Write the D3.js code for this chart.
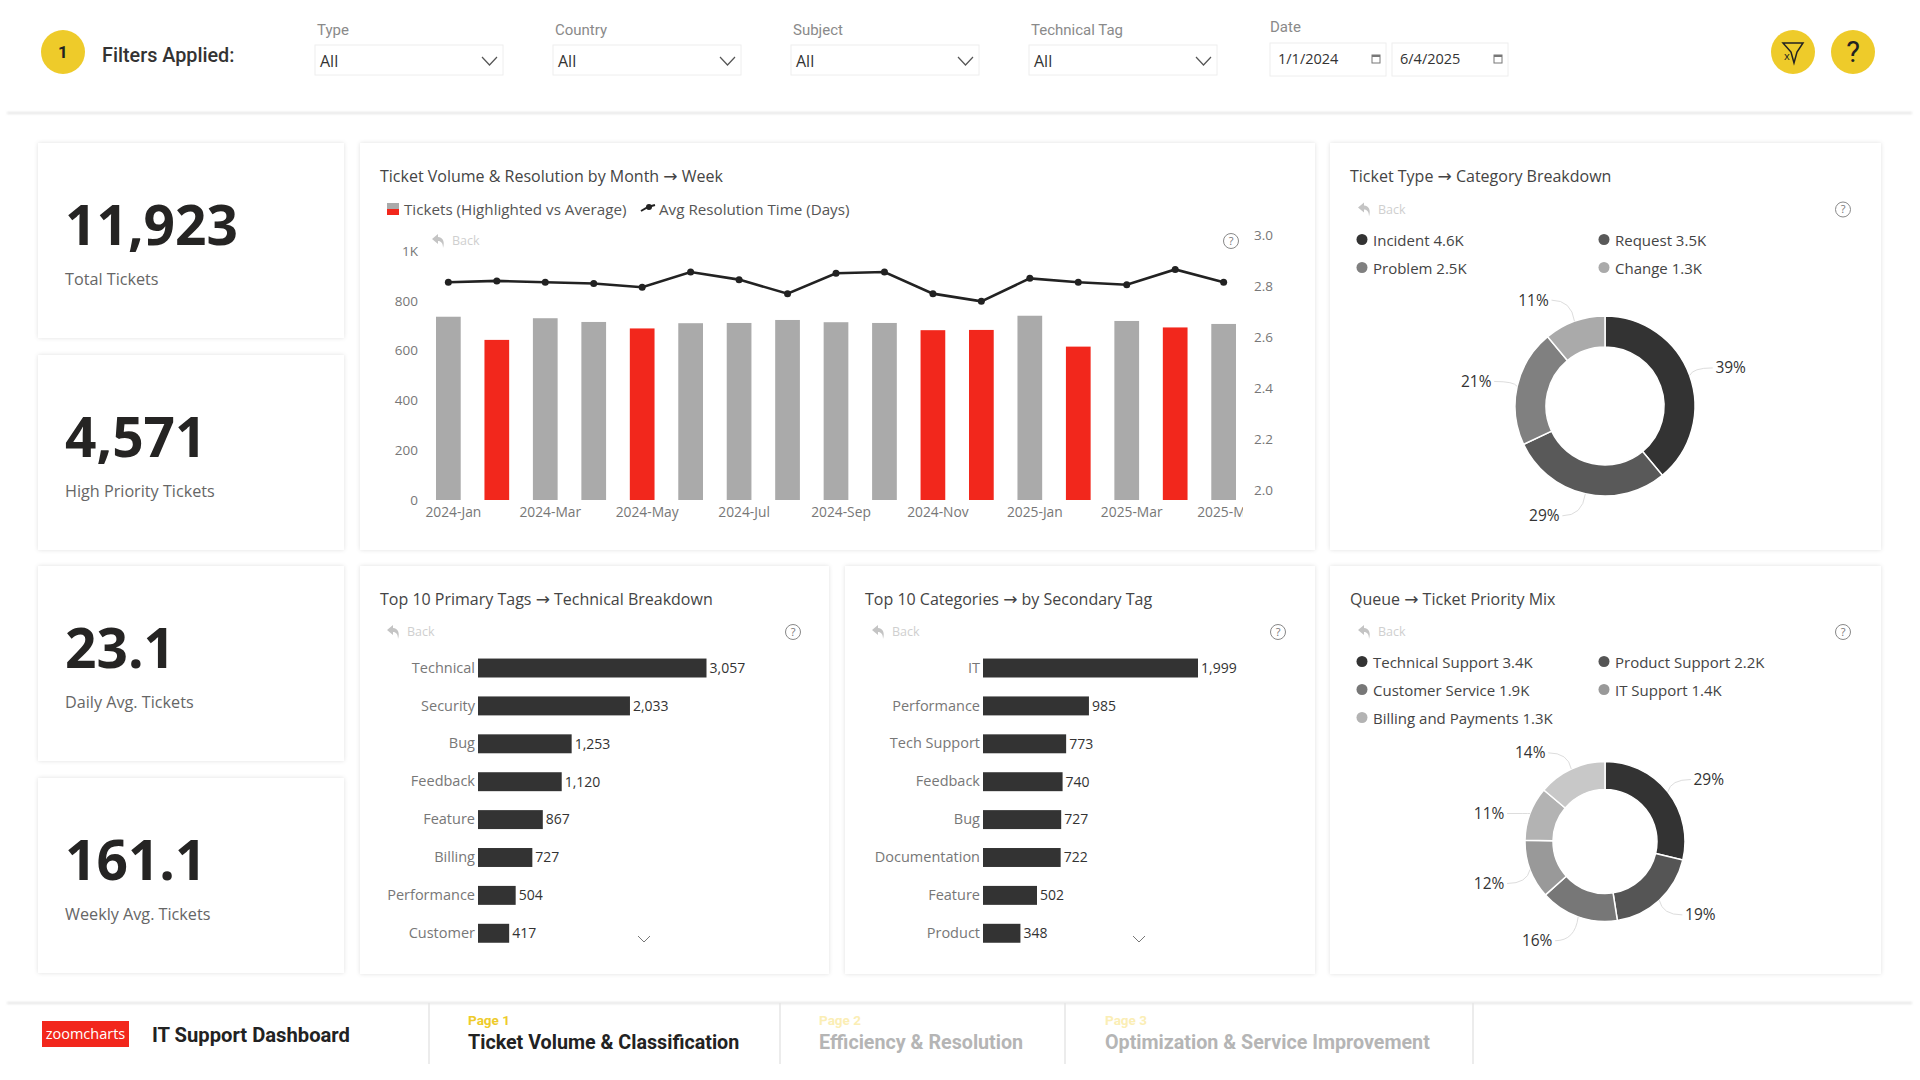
<!DOCTYPE html>
<html>
<head>
<meta charset="utf-8">
<title>IT Support Dashboard</title>
<script src="https://cdn.jsdelivr.net/npm/d3@7"></script>
<style>
  html, body { margin: 0; padding: 0; background: #fff; }
  svg { display: block; }
  text { font-family: "Open Sans", sans-serif; }
  .din { font-family: Roboto, sans-serif; }
</style>
</head>
<body>
<svg id="chart" width="1920" height="1080"></svg>
<script>
// kpi cards
const kpiValues = ['11,923', '4,571', '23.1', '161.1']
const kpiLabels = ['Total Tickets', 'High Priority Tickets', 'Daily Avg. Tickets', 'Weekly Avg. Tickets']

// monthly chart
const months = ['2024-Jan', '2024-Feb', '2024-Mar', '2024-Apr', '2024-May', '2024-Jun', '2024-Jul', '2024-Aug', '2024-Sep',
  '2024-Oct', '2024-Nov', '2024-Dec', '2025-Jan', '2025-Feb', '2025-Mar', '2025-Apr', '2025-May']
const tickets = [736, 643, 730, 715, 689, 710, 711, 723, 714, 711, 682, 683, 740, 616, 719, 693, 707]
const highlighted = [0, 1, 0, 0, 1, 0, 0, 0, 0, 0, 1, 1, 0, 1, 0, 1, 0]
const resolution = [2.815, 2.82, 2.815, 2.81, 2.795, 2.855, 2.825, 2.77, 2.85, 2.855, 2.77, 2.74, 2.83, 2.815, 2.805, 2.865, 2.815]
const leftTicks = [0, 200, 400, 600, 800, 1000]
const rightTicks = [2.0, 2.2, 2.4, 2.6, 2.8, 3.0]

// donuts
const typeNames = ['Incident', 'Request', 'Problem', 'Change']
const typeLegend = ['4.6K', '3.5K', '2.5K', '1.3K']
const typeShare = [39, 29, 21, 11]
const typeColors = ['#333333', '#595959', '#808080', '#aaaaaa']

const queueNames = ['Technical Support', 'Product Support', 'Customer Service', 'IT Support', 'Billing and Payments']
const queueLegend = ['3.4K', '2.2K', '1.9K', '1.4K', '1.3K']
const queueShare = [29, 19, 16, 12, 11, 14]
const queueColors = ['#333333', '#555555', '#777777', '#999999', '#b3b3b3', '#c8c8c8']

// bar lists
const primaryTags = ['Technical', 'Security', 'Bug', 'Feedback', 'Feature', 'Billing', 'Performance', 'Customer']
const primaryCounts = [3057, 2033, 1253, 1120, 867, 727, 504, 417]
const secondaryTags = ['IT', 'Performance', 'Tech Support', 'Feedback', 'Bug', 'Documentation', 'Feature', 'Product']
const secondaryCounts = [1999, 985, 773, 740, 727, 722, 502, 348]

// slicers
const slicerNames = ['Type', 'Country', 'Subject', 'Technical Tag']

const svg = d3.select('#chart')
const defs = svg.append('defs')
const shadow = defs.append('filter').attr('id', 'cardShadow').attr('x', '-5%').attr('y', '-5%').attr('width', '110%').attr('height', '110%')
shadow.append('feDropShadow').attr('dx', 0).attr('dy', 0).attr('stdDeviation', 2).attr('flood-color', '#000').attr('flood-opacity', 0.12)
const lineShadow = defs.append('filter').attr('id', 'lineShadow').attr('x', '-1%').attr('y', '-400%').attr('width', '102%').attr('height', '900%')
lineShadow.append('feGaussianBlur').attr('stdDeviation', 1.2)
defs.append('clipPath').attr('id', 'xClip').append('rect').attr('x', 400).attr('y', -10).attr('width', 843).attr('height', 40)

const card = (x, y, w, h) => svg.append('rect').attr('x', x).attr('y', y).attr('width', w).attr('height', h)
  .attr('fill', '#fff').attr('filter', 'url(#cardShadow)')

const label = (parent, x, y, str, size, color, opts = {}) => parent.append('text')
  .attr('x', x).attr('y', y).attr('dy', '0.35em').text(str)
  .attr('font-size', size).attr('fill', color)
  .attr('font-weight', opts.weight || 400)
  .attr('text-anchor', opts.anchor || 'start')
  .attr('class', opts.din ? 'din' : null)

// card titles, the arrow comes from DejaVu because Open Sans has none
const cardTitle = (x, y, before, after) => {
  const t = svg.append('text').attr('x', x).attr('y', y).attr('dy', '0.35em').attr('font-size', 16).attr('fill', '#444')
  t.append('tspan').text(before + ' ')
  t.append('tspan').text('→').style('font-family', '"DejaVu Sans"').attr('font-size', 17)
  t.append('tspan').text(' ' + after)
}

const backBtn = (x, y) => {
  svg.append('path').attr('transform', `translate(${x},${y})`)
    .attr('d', 'M-1,-7 L-7,-2 L-1,3 L-1,0 C2,0 4,2 4,7 C6,1 4,-4 -1,-4 Z').attr('fill', '#c4c4c4')
  label(svg, x + 13, y, 'Back', 12.5, '#cfcfcf')
}
const helpBtn = (x, y) => {
  svg.append('circle').attr('cx', x).attr('cy', y).attr('r', 7.5).attr('fill', 'none').attr('stroke', '#888').attr('stroke-width', 1)
  label(svg, x, y, '?', 11, '#777', { anchor: 'middle' })
}

// header
svg.append('rect').attr('x', 7).attr('y', 112).attr('width', 1905).attr('height', 2).attr('fill', '#e4e4e4').attr('filter', 'url(#lineShadow)')
svg.append('circle').attr('cx', 63).attr('cy', 52).attr('r', 22).attr('fill', '#eecb2a')
label(svg, 63, 52, '1', 17, '#222', { anchor: 'middle', weight: 700, din: true })
label(svg, 102, 55.5, 'Filters Applied:', 19.8, '#333', { weight: 500, din: true })

slicerNames.forEach((name, i) => {
  const x = 315 + i * 238
  label(svg, x + 2, 29.5, name, 15, '#8a8a8a', { din: true })
  svg.append('rect').attr('x', x).attr('y', 45).attr('width', 188).attr('height', 30).attr('fill', '#fff').attr('stroke', '#eeeeee')
  label(svg, x + 5, 61, 'All', 16, '#333')
  svg.append('path').attr('d', `M${x + 167},57 L${x + 174.5},65 L${x + 182},57`).attr('fill', 'none').attr('stroke', '#555').attr('stroke-width', 1.2)
})
label(svg, 1270, 27, 'Date', 15, '#8a8a8a', { din: true })
;[[1270, '1/1/2024'], [1392, '6/4/2025']].forEach(([x, str]) => {
  svg.append('rect').attr('x', x).attr('y', 43).attr('width', 116).attr('height', 33).attr('fill', '#fff').attr('stroke', '#eeeeee')
  label(svg, x + 8, 59, str, 14.5, '#333')
  svg.append('rect').attr('x', x + 102).attr('y', 55).attr('width', 8).attr('height', 8).attr('fill', 'none').attr('stroke', '#777').attr('stroke-width', 1)
  svg.append('rect').attr('x', x + 102).attr('y', 55).attr('width', 8).attr('height', 2).attr('fill', '#777')
})
svg.append('circle').attr('cx', 1793).attr('cy', 52).attr('r', 22).attr('fill', '#eecb2a')
svg.append('path').attr('d', 'M1783,43 H1803 L1797,52 L1794,63 L1791,52 Z').attr('fill', 'none').attr('stroke', '#222').attr('stroke-width', 1.5)
label(svg, 1787, 56, 'x', 11, '#222', { anchor: 'middle' })
svg.append('circle').attr('cx', 1853).attr('cy', 52).attr('r', 22).attr('fill', '#eecb2a')
label(svg, 1853, 52, '?', 29, '#222', { anchor: 'middle', din: true })

// kpi cards
const kpiTops = [143, 355, 566, 778]
kpiTops.forEach((top, i) => {
  card(38, top, 306, 195)
  svg.append('text').attr('x', 65).attr('y', top + 102).text(kpiValues[i])
    .attr('font-size', 55).attr('font-weight', 700).attr('fill', '#252423')
  svg.append('text').attr('x', 65).attr('y', top + 142).text(kpiLabels[i])
    .attr('font-size', 16.2).attr('fill', '#666')
})

// monthly chart
card(360, 143, 955, 407)
cardTitle(380, 176, 'Ticket Volume & Resolution by Month', 'Week')
svg.append('rect').attr('x', 387).attr('y', 203).attr('width', 12).attr('height', 6).attr('fill', '#aaa')
svg.append('rect').attr('x', 387).attr('y', 209).attr('width', 12).attr('height', 6).attr('fill', '#f2271c')
label(svg, 404, 209.5, 'Tickets (Highlighted vs Average)', 15.2, '#555')
svg.append('path').attr('d', 'M641,211 L648,207 L655,205').attr('stroke', '#222').attr('stroke-width', 2).attr('fill', 'none')
svg.append('circle').attr('cx', 649).attr('cy', 207).attr('r', 3).attr('fill', '#222')
label(svg, 659, 209.5, 'Avg Resolution Time (Days)', 15.2, '#555')
backBtn(439, 241)
helpBtn(1231, 241)

const xMonth = d3.scaleBand().domain(months).range([436, 1236]).paddingInner(0.49).paddingOuter(0)
const yTickets = d3.scaleLinear().domain([0, 1000]).range([500, 251])
const yDays = d3.scaleLinear().domain([2, 3]).range([490, 235])

svg.append('g').selectAll('rect').data(months).join('rect')
  .attr('x', d => xMonth(d))
  .attr('y', (d, i) => yTickets(tickets[i]))
  .attr('width', xMonth.bandwidth())
  .attr('height', (d, i) => yTickets(0) - yTickets(tickets[i]))
  .attr('fill', (d, i) => highlighted[i] ? '#f2271c' : '#aaaaaa')

const axisStyle = (g, size) => {
  g.select('.domain').remove()
  g.selectAll('.tick line').remove()
  g.selectAll('text').attr('font-size', size).attr('fill', '#777').style('font-family', '"Open Sans", sans-serif')
}
svg.append('g').attr('transform', 'translate(418,0)')
  .call(d3.axisLeft(yTickets).tickValues(leftTicks).tickSize(0).tickPadding(0).tickFormat(d => d === 1000 ? '1K' : d))
  .call(axisStyle, 13.5)
svg.append('g').attr('transform', 'translate(1254,0)')
  .call(d3.axisRight(yDays).tickValues(rightTicks).tickSize(0).tickPadding(0).tickFormat(d3.format('.1f')))
  .call(axisStyle, 13.5)
const xAxis = svg.append('g').attr('transform', 'translate(0,507)').attr('clip-path', 'url(#xClip)')
  .call(d3.axisBottom(xMonth).tickValues(months.filter((d, i) => i % 2 === 0)).tickSize(0).tickPadding(0))
  .call(axisStyle, 13.8)
xAxis.selectAll('text').attr('dx', 5)

const resLine = d3.line().x((d, i) => xMonth(months[i]) + xMonth.bandwidth() / 2).y(d => yDays(d))
svg.append('path').attr('d', resLine(resolution)).attr('fill', 'none').attr('stroke', '#222').attr('stroke-width', 2.6)
svg.append('g').selectAll('circle').data(resolution).join('circle')
  .attr('cx', (d, i) => xMonth(months[i]) + xMonth.bandwidth() / 2)
  .attr('cy', d => yDays(d))
  .attr('r', 3.5).attr('fill', '#222')

// donuts
const donut = (cx, cy, rOut, rIn, shares, colors, nudge = []) => {
  const g = svg.append('g').attr('transform', `translate(${cx},${cy})`)
  const slices = d3.pie().sort(null)(shares)
  const arc = d3.arc().innerRadius(rIn).outerRadius(rOut)
  g.selectAll('path.slice').data(slices).join('path').attr('class', 'slice')
    .attr('d', arc).attr('fill', (d, i) => colors[i]).attr('stroke', '#fff').attr('stroke-width', 1.5)
  slices.forEach((s, i) => {
    const a = (s.startAngle + s.endAngle) / 2
    const ax = Math.sin(a) * rOut
    const ay = -Math.cos(a) * rOut
    const side = ax >= 0 ? 1 : -1
    const ly = ay * 1.25 + (nudge[i] || 0)
    const lx = ax + side * 41
    g.append('path')
      .attr('d', `M${ax},${ay} Q${ax + side * 3},${ly} ${lx - side * 18},${ly}`)
      .attr('fill', 'none').attr('stroke', '#dddddd').attr('stroke-width', 1)
    label(g, lx, ly, shares[i] + '%', 15.5, '#333', { anchor: 'middle' })
  })
}
const legend = (names, vals, colors, ys) => {
  names.forEach((name, i) => {
    const x = i % 2 ? 1604 : 1362
    const y = ys[Math.floor(i / 2)]
    svg.append('circle').attr('cx', x).attr('cy', y - 1).attr('r', 5.5).attr('fill', colors[i])
    label(svg, x + 11, y, name + ' ' + vals[i], 15, '#444')
  })
}

card(1330, 143, 551, 407)
cardTitle(1350, 176, 'Ticket Type', 'Category Breakdown')
backBtn(1365, 209.5)
helpBtn(1843, 209.5)
legend(typeNames, typeLegend, typeColors, [240.5, 268.5])
donut(1605, 406, 90, 59, typeShare, typeColors)

card(1330, 566, 551, 408)
cardTitle(1350, 599, 'Queue', 'Ticket Priority Mix')
backBtn(1365, 632)
helpBtn(1843, 632)
legend(queueNames, queueLegend, queueColors, [662.5, 690.5, 718.5])
donut(1605, 841.5, 80, 52, queueShare, queueColors, [0, 0, 5, 7, 7, 2])

// top 10 bars
const barList = (names, counts, x0, x1, maxV) => {
  const x = d3.scaleLinear().domain([0, maxV]).range([x0, x1])
  const y = d3.scaleBand().domain(names).range([639.6, 961.7]).padding(0.5)
  svg.append('g').selectAll('rect').data(names).join('rect')
    .attr('x', x0).attr('y', d => y(d))
    .attr('width', (d, i) => x(counts[i]) - x0).attr('height', y.bandwidth())
    .attr('fill', '#333')
  svg.append('g').attr('transform', `translate(${x0 - 3},0)`)
    .call(d3.axisLeft(y).tickSize(0).tickPadding(0))
    .call(axisStyle, 14.5)
  svg.append('g').selectAll('text').data(names).join('text')
    .attr('x', (d, i) => x(counts[i]) + 3)
    .attr('y', d => y(d) + y.bandwidth() / 2)
    .attr('dy', '0.35em').text((d, i) => d3.format(',')(counts[i]))
    .attr('font-size', 14).attr('fill', '#333')
}

card(360, 566, 469, 408)
cardTitle(380, 599, 'Top 10 Primary Tags', 'Technical Breakdown')
backBtn(394, 632)
helpBtn(793, 632)
barList(primaryTags, primaryCounts, 478, 706.5, 3057)
svg.append('path').attr('d', 'M638,936 L644,942 L650,936').attr('fill', 'none').attr('stroke', '#777')

card(845, 566, 470, 408)
cardTitle(865, 599, 'Top 10 Categories', 'by Secondary Tag')
backBtn(879, 632)
helpBtn(1278, 632)
barList(secondaryTags, secondaryCounts, 983, 1198, 1999)
svg.append('path').attr('d', 'M1133,936 L1139,942 L1145,936').attr('fill', 'none').attr('stroke', '#777')

// footer
svg.append('rect').attr('x', 7).attr('y', 1002).attr('width', 1905).attr('height', 2).attr('fill', '#e4e4e4').attr('filter', 'url(#lineShadow)')
;[429, 780, 1065, 1473].forEach(x => svg.append('line').attr('x1', x).attr('x2', x).attr('y1', 1003).attr('y2', 1064).attr('stroke', '#e6e6e6').attr('stroke-width', 1.5))
svg.append('rect').attr('x', 42).attr('y', 1021).attr('width', 87).attr('height', 26).attr('fill', '#f2271c')
label(svg, 85.5, 1034, 'zoomcharts', 14.5, '#fff', { anchor: 'middle' })
label(svg, 152, 1034.5, 'IT Support Dashboard', 20.2, '#222', { weight: 700, din: true })
const pages = [['Page 1', 'Ticket Volume & Classification', 468, '#eecb2a', '#222'],
  ['Page 2', 'Efficiency & Resolution', 819, '#fbeeb5', '#b5b5b5'],
  ['Page 3', 'Optimization & Service Improvement', 1105, '#fbeeb5', '#b5b5b5']]
pages.forEach(([p, t, x, c1, c2]) => {
  label(svg, x, 1020, p, 13.5, c1, { weight: 700, din: true })
  label(svg, x, 1042, t, 19.7, c2, { weight: 700, din: true })
})
</script>
</body>
</html>
